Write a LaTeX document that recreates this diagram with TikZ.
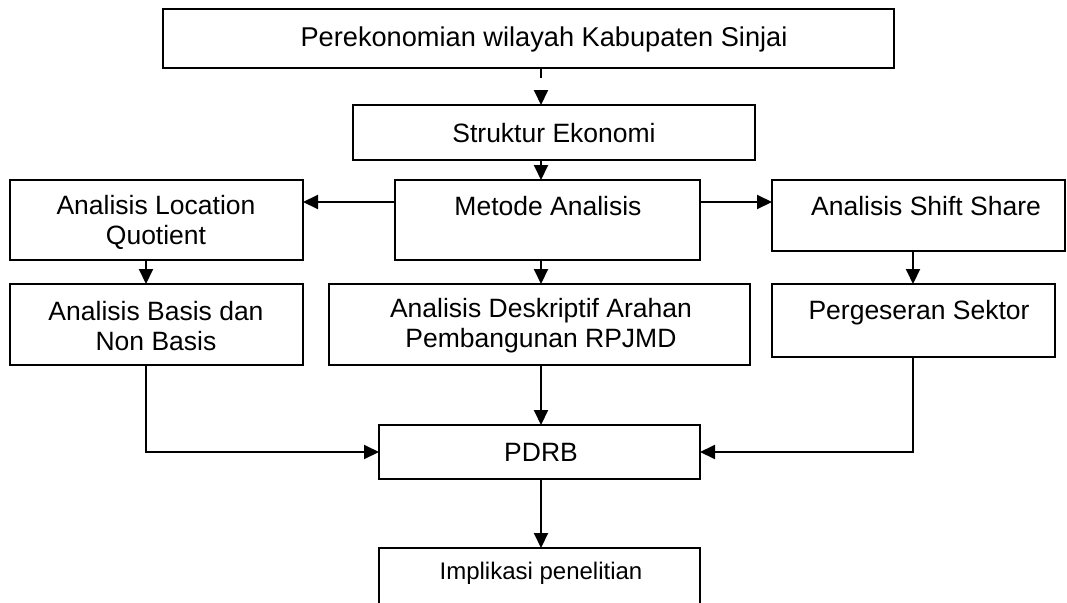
\documentclass[tikz,border=0pt]{standalone}
\usepackage{fontspec}
\setmainfont{Liberation Sans}
\usetikzlibrary{arrows.meta}
\begin{document}
\begin{tikzpicture}[x=1pt,y=-1pt,
  box/.style={draw, line width=1.8pt, inner sep=0pt, outer sep=0pt, fill=white},
  txt/.style={inner sep=0pt, align=center, font=\fontsize{26.5}{30}\selectfont},
  bigtxt/.style={inner sep=0pt, align=center, font=\fontsize{27.2}{31}\selectfont},
  smalltxt/.style={inner sep=0pt, align=center, font=\fontsize{24}{28}\selectfont},
  arr/.style={line width=2pt, -{Triangle[length=15pt,width=14pt]}},
  dasharr/.style={arr, dash pattern=on 10pt off 30pt},
]
\useasboundingbox (0,0) rectangle (1067,602);

% boxes
\node[box, minimum width=731pt, minimum height=59pt] (top) at (528.5,38.5) {};
\node[box, minimum width=402pt, minimum height=55pt] (str) at (554,132.5) {};
\node[box, minimum width=305pt, minimum height=80pt] (met) at (547.5,220) {};
\node[box, minimum width=293pt, minimum height=80pt] (lq) at (156.5,220) {};
\node[box, minimum width=293pt, minimum height=71pt] (ss) at (918.5,215.5) {};
\node[box, minimum width=293pt, minimum height=81pt] (bas) at (156.5,324.5) {};
\node[box, minimum width=421pt, minimum height=81pt] (desk) at (539.5,324.5) {};
\node[box, minimum width=283pt, minimum height=73pt] (per) at (913.5,320.5) {};
\node[box, minimum width=321pt, minimum height=54pt] (pdrb) at (539.5,452) {};
\node[box, minimum width=321pt, minimum height=72pt] (imp) at (539.5,584) {};

% texts
\node[bigtxt] (top-t) at (544,39) {Perekonomian wilayah Kabupaten Sinjai};
\node[txt] (str-t) at (554,133) {Struktur Ekonomi};
\node[txt] (met-t) at (548,206) {Metode Analisis};
\node[txt] (lq-t) at (156,222) {Analisis Location\\Quotient};
\node[txt] (ss-t) at (926,206) {Analisis Shift Share};
\node[txt] (bas-t) at (156,326) {Analisis Basis dan\\Non Basis};
\node[txt] (desk-t) at (541,326) {Analisis Deskriptif Arahan\\Pembangunan RPJMD};
\node[txt] (per-t) at (919,313) {Pergeseran Sektor};
\node[txt] (pdrb-t) at (541,452) {PDRB};
\node[smalltxt] (imp-t) at (541,573) {Implikasi penelitian};

% helper coordinates
\coordinate (ax) at (541,0);
\coordinate (bx) at (146,0);
\coordinate (px) at (913,0);
\coordinate (ay) at (0,202);

% connectors
\draw[dasharr] (top.south -| ax) -- (str.north -| ax);
\draw[arr] (str.south -| ax) -- (met.north -| ax);
\draw[arr] (met.west |- ay) -- (lq.east |- ay);
\draw[arr] (met.east |- ay) -- (ss.west |- ay);
\draw[arr] (lq.south -| bx) -- (bas.north -| bx);
\draw[arr] (met.south -| ax) -- (desk.north -| ax);
\draw[arr] (ss.south -| px) -- (per.north -| px);
\draw[arr] (bas.south -| bx) |- (pdrb.west);
\draw[arr] (desk.south -| ax) -- (pdrb.north -| ax);
\draw[arr] (per.south -| px) |- (pdrb.east);
\draw[arr] (pdrb.south -| ax) -- (imp.north -| ax);
\end{tikzpicture}
\end{document}
